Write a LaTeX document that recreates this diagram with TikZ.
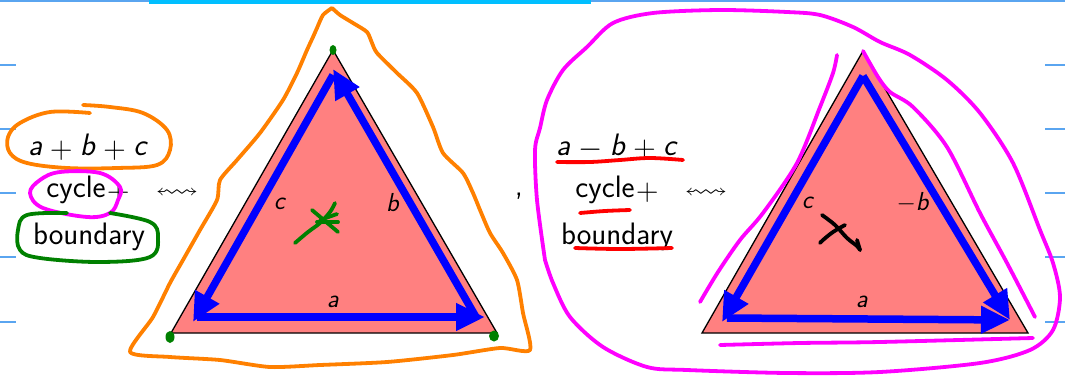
\documentclass[tikz,border=0pt]{standalone}
\usepackage{amssymb}
\usetikzlibrary{arrows.meta}
\definecolor{trifill}{HTML}{FF8080}
\definecolor{ruleblue}{HTML}{5AA5F0}
\definecolor{topcyan}{HTML}{00BFFF}
\definecolor{hgreen}{HTML}{008000}
\definecolor{horange}{HTML}{FF8000}
\definecolor{hmag}{HTML}{FF00FF}
\newcommand{\opsp}[1]{\hspace{0.24em}\raisebox{-0.08em}{\scalebox{1.25}{$#1$}}\hspace{0.24em}}
\tikzset{
  ruleline/.style={ruleblue, line width=1.3pt},
  tri/.style={fill=trifill, draw=black, line width=1.3pt, line join=miter},
  barrow/.style={blue, line width=7.5pt, -{Triangle[length=29pt,width=26pt]}},
  hand/.style={line width=3.8pt, line cap=round, line join=round},
  bigtxt/.style={font=\sffamily\fontsize{31}{35}\selectfont, inner sep=0pt},
  lbl/.style={font=\sffamily\fontsize{26}{30}\selectfont, inner sep=0pt},
  sq/.style={inner sep=0pt, font=\fontsize{22}{24}\selectfont}
}
\begin{document}
\begin{tikzpicture}[x=1pt,y=-1pt]
\useasboundingbox (0,0) rectangle (1065,383);
% lined paper
\foreach \yy in {65,129,193,257,322}{
  \draw[ruleline] (0,\yy) -- (16,\yy);
  \draw[ruleline] (1045,\yy) -- (1065,\yy);
}
\draw[ruleline] (0,1) -- (1065,1);
\draw[topcyan, line width=4pt] (149,1.5) -- (591,1.5);

% triangle 1
\coordinate (T1a) at (333,50);
\coordinate (T1b) at (171,333);
\coordinate (T1c) at (497,333);
\draw[tri] (T1a) -- (T1b) -- (T1c) -- cycle;
\coordinate (A1) at (333,69);
\coordinate (B1) at (193,322);
\coordinate (C1) at (485,317);
\coordinate (B1s) at (197,317);
\coordinate (C1s) at (476,317);
\coordinate (A1s) at (333,75);
\draw[barrow] (B1s) -- (C1);
\draw[barrow] (C1s) -- (A1);
\draw[barrow] (A1s) -- (B1);
\node[lbl] (la1) at (333,302) {\textit{a}};
\node[lbl] (lb1) at (393,203) {\textit{b}};
\node[lbl] (lc1) at (280,204) {\textit{c}};

% triangle 2
\coordinate (T2a) at (863,51);
\coordinate (T2b) at (702,333);
\coordinate (T2c) at (1028,333);
\draw[tri] (T2a) -- (T2b) -- (T2c) -- cycle;
\coordinate (A2) at (863,76);
\coordinate (B2) at (722,322);
\coordinate (C2) at (1010,320);
\coordinate (B2s) at (727,318);
\draw[barrow] (B2s) -- (C2);
\draw[barrow] (A2) -- (C2);
\draw[barrow] (A2) -- (B2);
\node[lbl] (la2) at (862,302) {\textit{a}};
\node[lbl] (lb2) at (913,203) {$-$\textit{b}};
\node[lbl] (lc2) at (808,203) {\textit{c}};

% left text
\node[bigtxt] (s1) at (88,147) {\textit{a}\opsp{+}\textit{b}\opsp{+}\textit{c}};
\node[bigtxt] (cy1) at (88,190) {cycle\hspace{0.05em}\raisebox{-0.08em}{\scalebox{1.25}{$+$}}};
\node[bigtxt] (bd1) at (89,237) {boundary};
\node[sq] (w1) at (177,193) {\scalebox{1.4}[1]{$\leftrightsquigarrow$}};
\node[bigtxt] (comma) at (519,196) {,};
% middle text
\node[bigtxt] (s2) at (617,147) {\textit{a}\opsp{-}\textit{b}\opsp{+}\textit{c}};
\node[bigtxt] (cy2) at (617,190) {cycle\hspace{0.05em}\raisebox{-0.08em}{\scalebox{1.25}{$+$}}};
\node[bigtxt] (bd2) at (617,237) {boundary};
\node[sq] (w2) at (706,193) {\scalebox{1.4}[1]{$\leftrightsquigarrow$}};

% ---- hand annotations ----
% orange loop around a+b+c
\draw[hand, horange] plot[smooth, tension=0.6] coordinates {(90,113) (50,112) (20,123) (8,137) (10,153) (27,163) (67,168) (117,168) (157,165) (170,150) (167,130) (143,113) (110,107) (83,105)};
% magenta loop around cycle
\draw[hand, hmag] plot[smooth cycle, tension=0.6] coordinates {(40,180) (30,193) (43,208) (87,217) (110,213) (118,200) (120,187) (100,173) (60,172)};
% green loop around boundary
\draw[hand, hgreen] plot[smooth, tension=0.6] coordinates {(67,213) (27,215) (18,230) (20,250) (40,258) (100,262) (150,257) (158,237) (150,222) (110,213)};
% orange outline around triangle 1
\draw[hand, horange] plot[smooth, tension=0.4] coordinates {(332,8) (340,15) (353,23) (367,32) (372,43) (377,53) (397,73) (417,93) (433,127) (443,153) (463,173) (473,193) (480,210) (490,233) (503,253) (517,280) (523,313) (530,350) (500,348) (453,355) (387,362) (320,365) (270,367) (220,360) (170,357) (130,352) (153,317) (170,283) (183,260) (200,230) (217,200) (220,180) (237,160) (260,133) (283,100) (297,73) (307,50) (313,37) (317,28) (323,15) (332,8)};
% green vertex dots
\fill[hgreen] (333,50) ellipse (3.5 and 5);
\fill[hgreen] (170,337) ellipse (4.5 and 6);
\fill[hgreen] (494,336) ellipse (5 and 5.5);
% green star
\draw[hand, hgreen] plot[smooth, tension=0.6] coordinates {(295,243) (308,232) (320,223) (330,212) (335,203)};
\draw[hand, hgreen] (312,210) -- (338,232);
\draw[hand, hgreen] (317,222) -- (338,222);
\draw[hand, hgreen] (320,220) -- (337,214);
% red underlines
\draw[hand, red] plot[smooth, tension=0.6] coordinates {(557,162) (590,162) (620,160) (650,158) (683,160)};
\draw[hand, red] plot[smooth, tension=0.6] coordinates {(580,213) (605,211) (630,210)};
\draw[hand, red] plot[smooth, tension=0.6] coordinates {(575,248) (620,249) (672,248)};
% big magenta loop around triangle 2
\draw[hand, hmag] plot[smooth, tension=0.5] coordinates {(545,260) (537,200) (535,150) (540,128) (547,100) (563,70) (587,47) (613,23) (653,13) (720,10) (787,12) (820,15) (853,27) (880,42) (910,55) (947,80) (980,113) (1013,163) (1040,230) (1053,263) (1060,297) (1053,330) (1030,350) (980,363) (880,372) (787,373) (687,370) (647,367) (603,347) (570,317) (553,283) (545,260)};
% inner magenta strokes
\draw[hand, hmag] plot[smooth, tension=0.5] coordinates {(837,55) (833,73) (820,107) (797,163) (763,213) (740,240) (718,272) (700,302)};
\draw[hand, hmag] plot[smooth, tension=0.5] coordinates {(863,51) (878,77) (890,92) (913,107) (947,147) (980,213) (1007,263) (1035,317)};
\draw[hand, hmag] plot[smooth, tension=0.5] coordinates {(720,345) (800,343) (880,342) (1033,338)};
% black X
\draw[hand, black] plot[smooth, tension=0.6] coordinates {(822,215) (835,225) (847,238) (857,246) (860,250)};
\draw[hand, black] (857,240) -- (860,250);
\draw[hand, black] plot[smooth, tension=0.6] coordinates {(845,225) (833,232) (823,240) (820,243)};
\end{tikzpicture}
\end{document}
